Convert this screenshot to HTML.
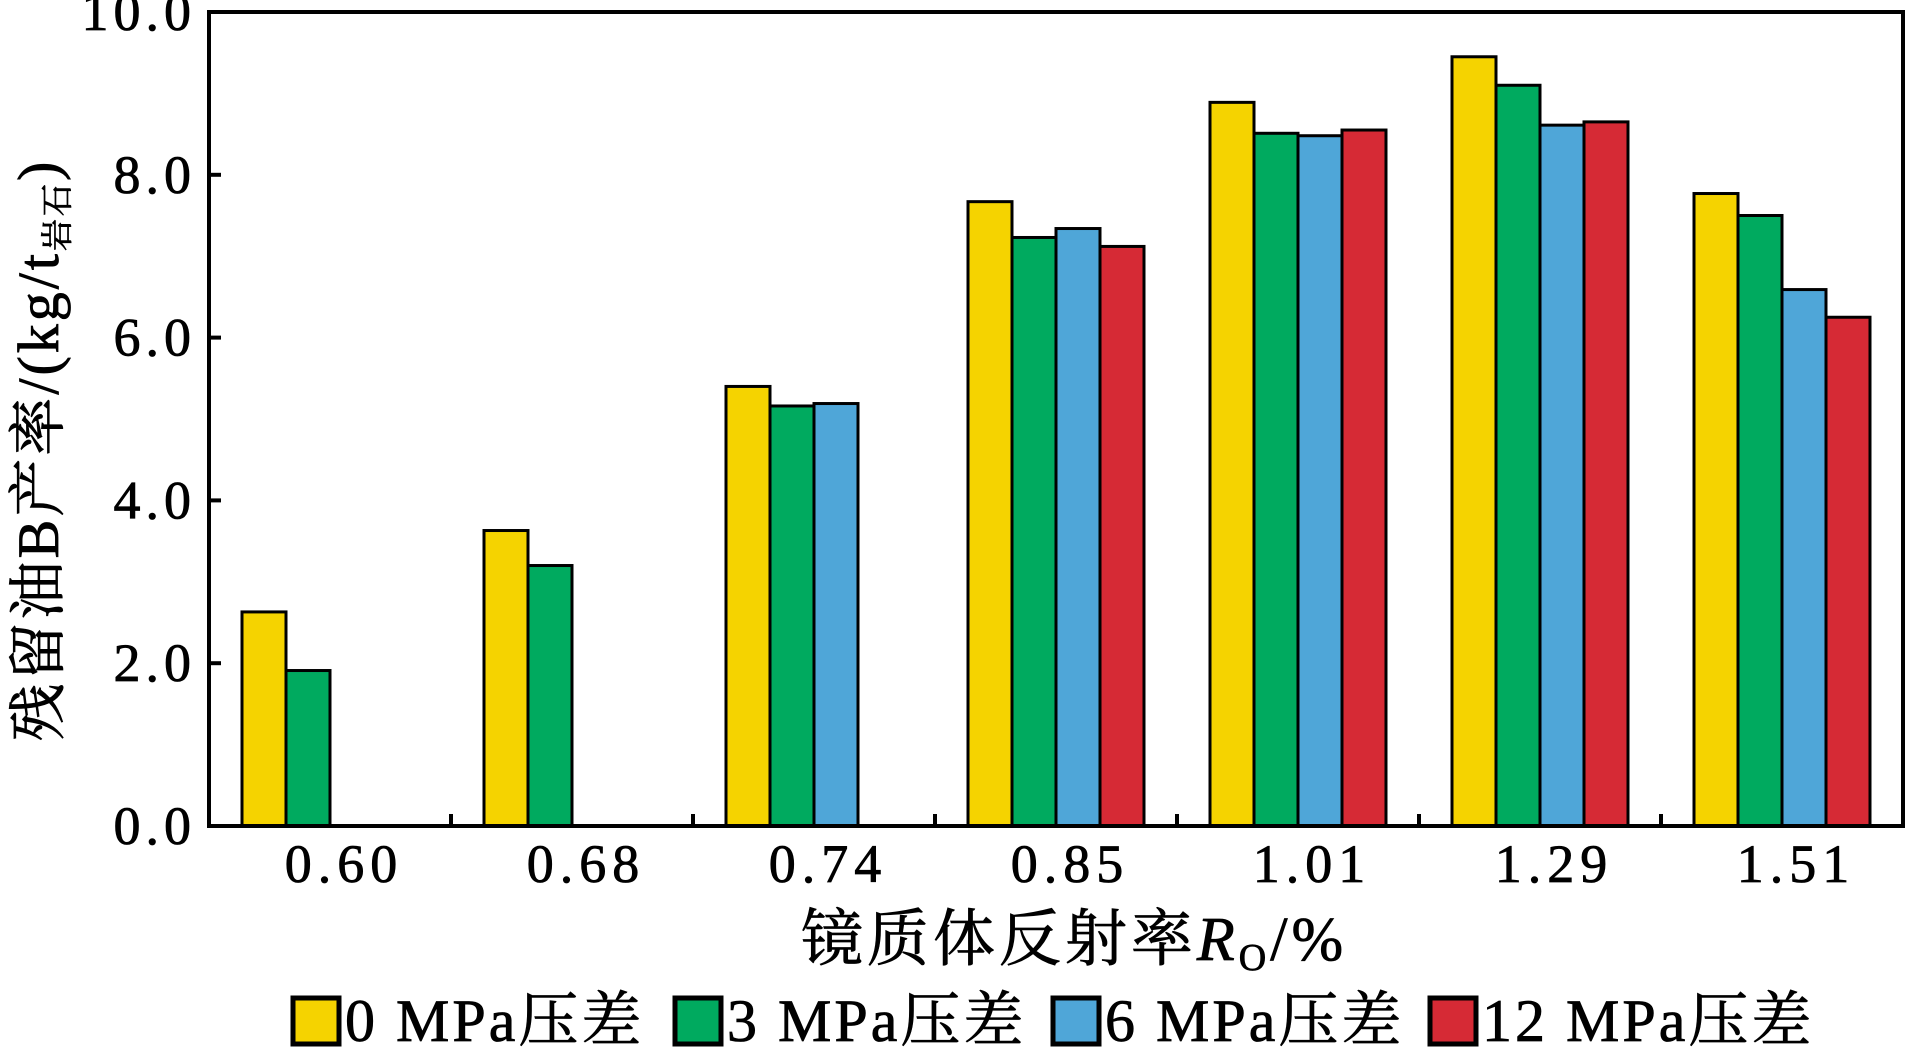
<!DOCTYPE html>
<html><head><meta charset="utf-8"><style>
html,body{margin:0;padding:0;background:#fff;}
svg{display:block;font-family:"Liberation Serif","Noto Serif CJK SC","Noto Sans CJK SC",serif;}
text{stroke:#000;stroke-width:0.8;}
</style></head><body>
<svg id="chart" width="1907" height="1053" viewBox="0 0 1907 1053" xmlns="http://www.w3.org/2000/svg">
<g id="bars"></g>
<g id="axes"></g>
<text transform="translate(58,450) rotate(-90)" text-anchor="middle" font-size="58" letter-spacing="3" fill="#000">残留油B产率/(kg/t<tspan font-size="32" dy="10">岩石</tspan><tspan dy="-10">)</tspan></text>
<text x="1074" y="960" text-anchor="middle" font-size="62" letter-spacing="4" fill="#000">镜质体反射率<tspan font-style="italic">R</tspan><tspan font-size="38" dy="10">O</tspan><tspan dy="-10">/%</tspan></text>
<g id="legend"></g>
</svg>
<script>
const categories = ["0.60","0.68","0.74","0.85","1.01","1.29","1.51"];
const series0 = [2.63,3.63,5.40,7.67,8.89,9.45,7.77];
const series3 = [1.91,3.20,5.16,7.23,8.51,9.10,7.50];
const series6 = [null,null,5.19,7.34,8.48,8.61,6.59];
const series12 = [null,null,null,7.12,8.55,8.65,6.25];
const seriesNames = ["0 MPa压差","3 MPa压差","6 MPa压差","12 MPa压差"];
const yTicks = [0,2,4,6,8,10];
const yTickLabels = ["0.0","2.0","4.0","6.0","8.0","10.0"];

const NS="http://www.w3.org/2000/svg";
const L=209,R=1903,T=12,B=826;
const colors=["#F5D300","#00AA5F","#4FA6D8","#D62A35"];
const allSeries=[series0,series3,series6,series12];
const catW=(R-L)/categories.length;
const barW=44;
function y(v){return B-(v/10)*(B-T);}
function mk(tag,attrs,parent){const e=document.createElementNS(NS,tag);for(const k in attrs)e.setAttribute(k,attrs[k]);parent.appendChild(e);return e;}
const bars=document.getElementById('bars');
allSeries.forEach((s,si)=>{
  s.forEach((v,ci)=>{
    if(v===null)return;
    const x0=L+ci*catW+(catW-4*barW)/2+si*barW;
    const r=mk('rect',{x:x0,y:y(v),width:barW,height:B-y(v),fill:colors[si],stroke:'#000','stroke-width':3},bars);
    
    
  });
});
const axes=document.getElementById('axes');
const frame=mk('rect',{x:L,y:T,width:R-L,height:B-T,fill:'none',stroke:'#000','stroke-width':4},axes);


yTicks.forEach((t,i)=>{
  mk('line',{x1:L,x2:L+12,y1:y(t),y2:y(t),stroke:'#000','stroke-width':4},axes);
  const tx=mk('text',{x:196,y:y(t)+18,'text-anchor':'end','font-size':54,'letter-spacing':5},axes);
  tx.textContent=yTickLabels[i];
  
  
});
categories.forEach((c,i)=>{
  if(i>0) mk('line',{x1:L+i*catW,x2:L+i*catW,y1:B,y2:B-12,stroke:'#000','stroke-width':4},axes);
  const tx=mk('text',{x:L+(i+0.5)*catW+14,y:882,'text-anchor':'middle','font-size':54,'letter-spacing':6},axes);
  tx.textContent=c;
  
  
});
const legend=document.getElementById('legend');
const lx=[293,675,1053,1430];
seriesNames.forEach((n,i)=>{
  const g=mk('g',{},legend);
  
  
  mk('rect',{x:lx[i],y:998,width:46,height:46,fill:colors[i],stroke:'#000','stroke-width':5},g);
  const t=mk('text',{x:lx[i]+52,y:1041,'font-size':60,'letter-spacing':3},g);
  t.textContent=n;
});
</script>
</body></html>
